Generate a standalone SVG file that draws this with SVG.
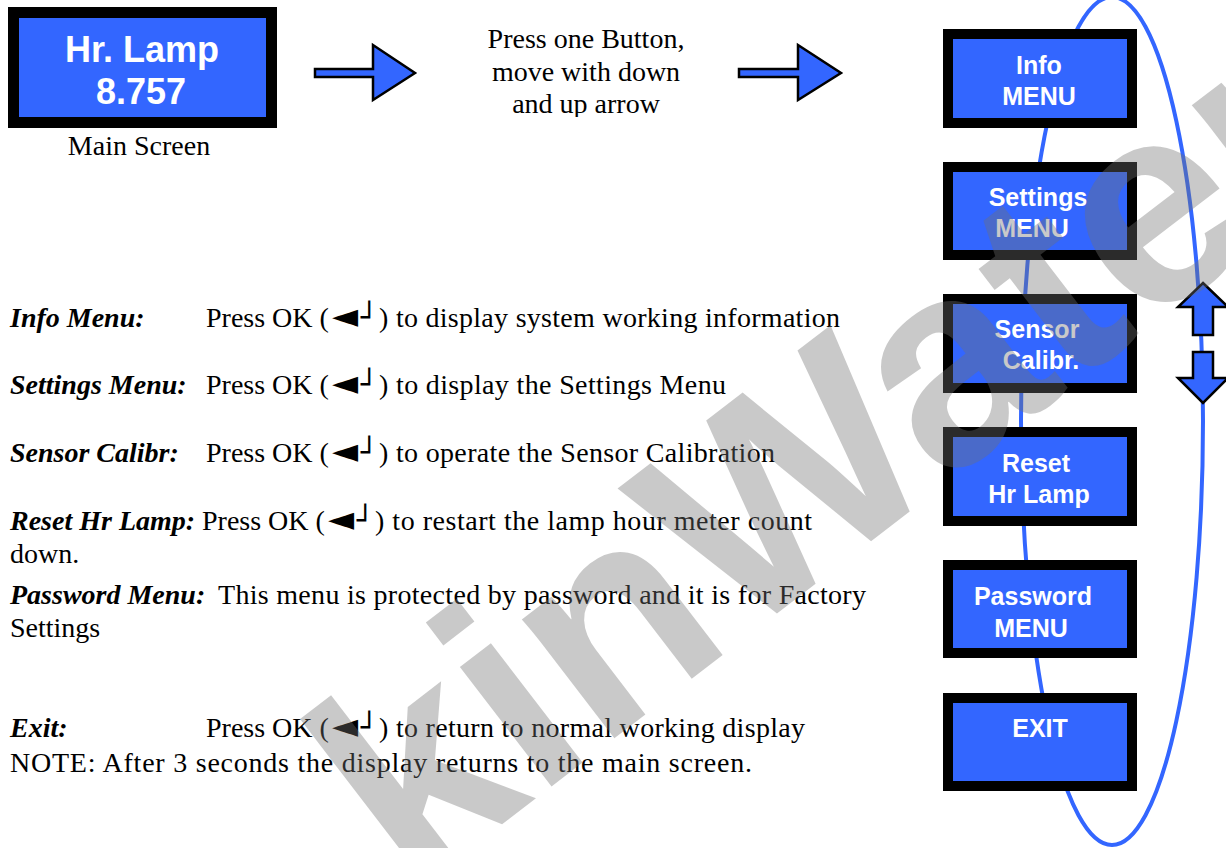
<svg xmlns="http://www.w3.org/2000/svg" width="1226" height="848" viewBox="0 0 1226 848">
<style>
.box{fill:#3366FF;stroke:#000;stroke-width:10}
.bt{font-family:"Liberation Sans",Arial,sans-serif;font-weight:bold;font-size:25px;fill:#fff;text-anchor:middle}
.mt{font-family:"Liberation Sans",Arial,sans-serif;font-weight:bold;font-size:36px;fill:#fff;text-anchor:middle}
.tx{font-family:"Liberation Serif","Times New Roman",serif;font-size:28px;fill:#000}
.lb{font-weight:bold;font-style:italic}
.sym{font-family:"DejaVu Sans",sans-serif;font-size:34px}
.sym2{font-family:"DejaVu Sans",sans-serif;font-size:28px;font-weight:bold}
.arr{fill:#3366FF;stroke:#000;stroke-width:2.5;stroke-linejoin:miter}
.loop{fill:none;stroke:#3366FF;stroke-width:4}
.wm{font-family:"Liberation Sans",Arial,sans-serif;font-weight:bold;font-size:285px;fill:#707070;fill-opacity:0.38}
</style>
<defs>
<clipPath id="clipTop"><rect x="400" y="0" width="400" height="117"/></clipPath>
</defs>
<rect width="1226" height="848" fill="#fff"/>
<g id="connectors">
<ellipse class="loop" cx="1112" cy="421" rx="91" ry="424"/>
<polygon class="arr" points="315,69 373,69 373,45 415,73 373,100 373,77 315,77"/>
<polygon class="arr" points="739,69 798,69 798,45 841,73 798,100 798,77 739,77"/>
<polygon class="arr" points="1203,283 1228,307 1213,307 1213,335 1193,335 1193,307 1178,307"/>
<polygon class="arr" points="1193,352 1213,352 1213,378 1228,378 1203,403 1178,378 1193,378"/>
</g>
<g id="main-screen">
<rect class="box" x="13.5" y="12.5" width="258" height="110" style="stroke-width:11"/>
<text class="mt" x="142" y="62">Hr. Lamp</text>
<text class="mt" x="141" y="104">8.757</text>
<text class="tx" x="139" y="155" text-anchor="middle">Main Screen</text>
</g>
<g id="instruction" clip-path="url(#clipTop)">
<text class="tx" text-anchor="middle"><tspan x="586" y="48">Press one Button,</tspan><tspan x="586" y="81">move with down</tspan><tspan x="586" y="113">and up arrow</tspan></text>
</g>
<g id="info-menu">
<rect class="box" x="948" y="34" width="184" height="89"/>
<text class="bt" x="1039" y="74">Info</text>
<text class="bt" x="1039" y="105">MENU</text>
</g>
<g id="settings-menu">
<rect class="box" x="948" y="167" width="184" height="88"/>
<text class="bt" x="1038" y="206">Settings</text>
<text class="bt" x="1032" y="237">MENU</text>
</g>
<g id="sensor-calibr">
<rect class="box" x="948" y="299" width="184" height="89"/>
<text class="bt" x="1037" y="338">Sensor</text>
<text class="bt" x="1041" y="369">Calibr.</text>
</g>
<g id="reset-hr-lamp">
<rect class="box" x="948" y="432" width="184" height="89"/>
<text class="bt" x="1036" y="472">Reset</text>
<text class="bt" x="1039" y="503">Hr Lamp</text>
</g>
<g id="password-menu">
<rect class="box" x="948" y="565" width="184" height="88"/>
<text class="bt" x="1033" y="605">Password</text>
<text class="bt" x="1031" y="637">MENU</text>
</g>
<g id="exit">
<rect class="box" x="948" y="698" width="184" height="88"/>
<text class="bt" x="1040" y="737">EXIT</text>
</g>
<g id="descriptions" class="tx">
<text y="327"><tspan class="lb" x="10">Info Menu:</tspan><tspan x="206">Press OK (</tspan><tspan class="sym" x="332">◄</tspan><tspan class="sym2" x="361">┘</tspan></text>
<text x="379" y="327" textLength="461" lengthAdjust="spacing">) to display system working information</text>
<text y="394"><tspan class="lb" x="10">Settings Menu:</tspan><tspan x="206">Press OK (</tspan><tspan class="sym" x="332">◄</tspan><tspan class="sym2" x="361">┘</tspan></text>
<text x="379" y="394" textLength="347" lengthAdjust="spacing">) to display the Settings Menu</text>
<text y="462"><tspan class="lb" x="10">Sensor Calibr:</tspan><tspan x="206">Press OK (</tspan><tspan class="sym" x="332">◄</tspan><tspan class="sym2" x="361">┘</tspan></text>
<text x="379" y="462" textLength="396" lengthAdjust="spacing">) to operate the Sensor Calibration</text>
<text y="530"><tspan class="lb" x="10">Reset Hr Lamp:</tspan><tspan x="202">Press OK (</tspan><tspan class="sym" x="328">◄</tspan><tspan class="sym2" x="357">┘</tspan></text>
<text x="375" y="530" textLength="437" lengthAdjust="spacing">) to restart the lamp hour meter count</text>
<text x="10" y="563">down.</text>
<text y="604"><tspan class="lb" x="10">Password Menu:</tspan></text>
<text x="218" y="604" textLength="648" lengthAdjust="spacing">This menu is protected by password and it is for Factory</text>
<text x="10" y="637">Settings</text>
<text y="737"><tspan class="lb" x="10">Exit:</tspan><tspan x="206">Press OK (</tspan><tspan class="sym" x="332">◄</tspan><tspan class="sym2" x="361">┘</tspan></text>
<text x="379" y="737" textLength="426" lengthAdjust="spacing">) to return to normal working display</text>
<text x="10" y="772" textLength="742" lengthAdjust="spacing">NOTE: After 3 seconds the display returns to the main screen.</text>
</g>
<g id="watermark">
<text class="wm" transform="translate(410,895) rotate(-37.5)">kinWater</text>
</g>
</svg>
